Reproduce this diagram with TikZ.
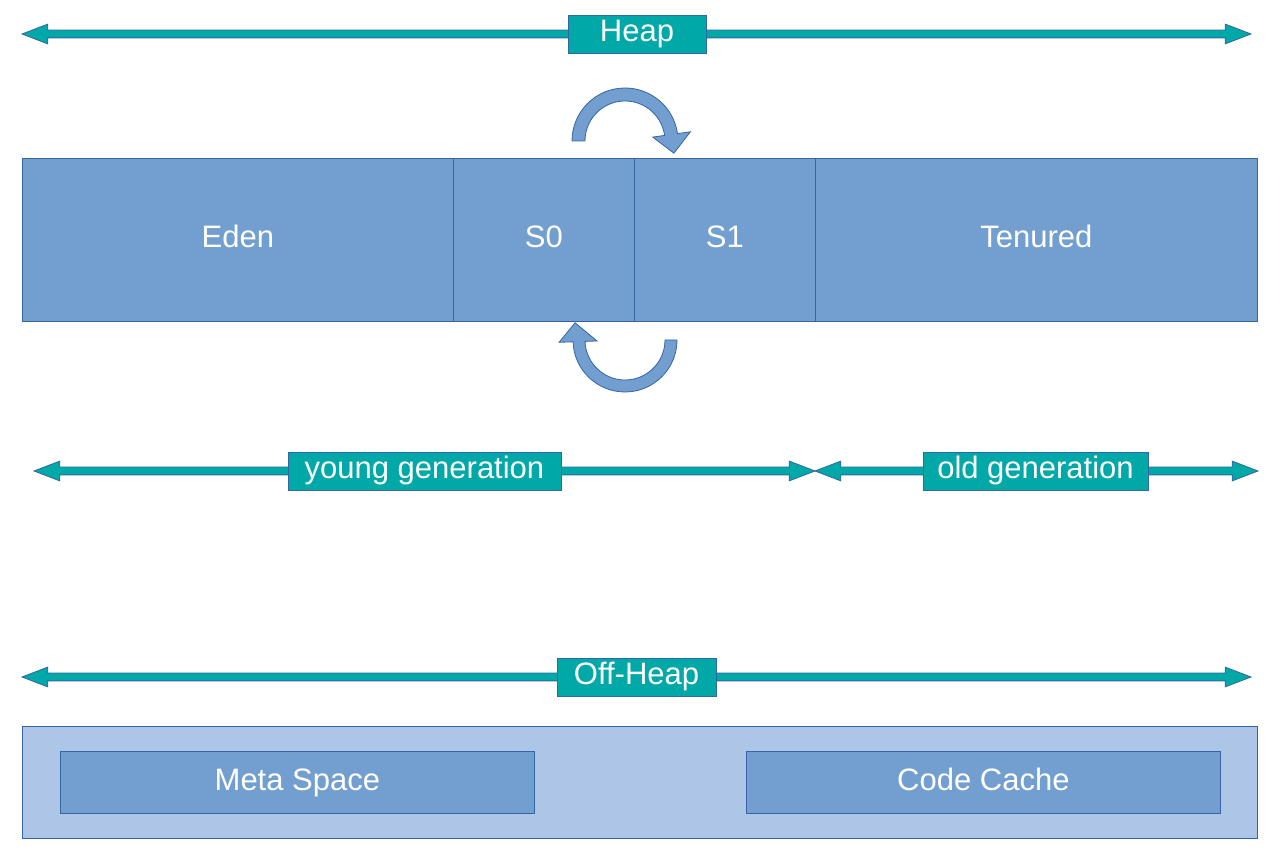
\documentclass[tikz,border=0pt]{standalone}
\usepackage{fontspec}
\setmainfont{Liberation Sans}
\usetikzlibrary{shapes.arrows,calc}

\definecolor{region}{RGB}{114,159,207}
\definecolor{pale}{RGB}{173,197,231}
\definecolor{band}{RGB}{0,168,168}
\definecolor{edge}{RGB}{52,101,164}

\tikzstyle{block}=[draw=edge, fill=region, line width=0.8pt, inner sep=0pt, text=white, text height=22pt, text depth=7pt, anchor=south west]
\tikzstyle{span}=[double arrow, draw=edge, fill=band, line width=0.8pt, inner xsep=0pt, inner ysep=3.5pt, double arrow head extend=6pt, double arrow tip angle=42]
\tikzstyle{tag}=[draw=edge, fill=band, line width=0.8pt, text=white, text height=22pt, text depth=6pt, minimum height=38pt, inner sep=0pt]
\tikzstyle{curl}=[draw=edge, fill=region, line width=0.8pt]

\begin{document}
\begin{tikzpicture}[x=1pt, y=1pt, font=\fontsize{31}{37}\selectfont]
      \useasboundingbox (0,0) rectangle (1283,859);
      % heap
      \node[span, minimum height=1229pt] (heaparr) at (636.5,825) {};
      \node[tag, minimum width=138pt] (heap) at (637,825) {Heap};
      \foreach \n/\a/\b in {Eden/22/453, S0/453/634, S1/634/815, Tenured/815/1257} {%
        \node[block, minimum width={(\b-\a)*1pt}, minimum height=163pt] (\n) at (\a,537) {\n};
      }
      % survivor swaps
      \coordinate (up) at (625,718);
      \coordinate (down) at (625,519);
      \fill[curl] ($(up)+(180:53)$) arc[start angle=180, end angle=8, radius=53]
        -- ($(up)+(8:66)$) -- ($(up)+(-14:50.4)$) -- ($(up)+(8:28)$)
        -- ($(up)+(8:40)$) arc[start angle=8, end angle=180, radius=40] -- cycle;
      \fill[curl] ($(down)+(0:52)$) arc[start angle=0, end angle=-178, radius=52]
        -- ($(down)+(-178:66)$) -- ($(down)+(161:52.8)$) -- ($(down)+(-178:28)$)
        -- ($(down)+(-178:40)$) arc[start angle=-178, end angle=0, radius=40] -- cycle;
      % generations
      \node[span, minimum height=781pt] (youngarr) at (424.5,388) {};
      \node[span, minimum height=443pt] (oldarr) at (1036.5,388) {};
      \node[tag, minimum width=273pt] (young) at (424.5,388) {young generation};
      \node[tag, minimum width=225pt] (old) at (1035.5,388) {old generation};
      % off heap
      \node[span, minimum height=1229pt] (offarr) at (636.5,182) {};
      \node[tag, minimum width=159pt] (offheap) at (636.5,182) {Off-Heap};
      \node[block, fill=pale, minimum width=1235pt, minimum height=112pt] (native) at (22,20) {};
      \node[block, minimum width=474pt, minimum height=62pt] (meta) at (60,45) {Meta Space};
      \node[block, minimum width=474pt, minimum height=62pt] (cache) at (746,45) {Code Cache};
    \end{tikzpicture}
\end{document}
